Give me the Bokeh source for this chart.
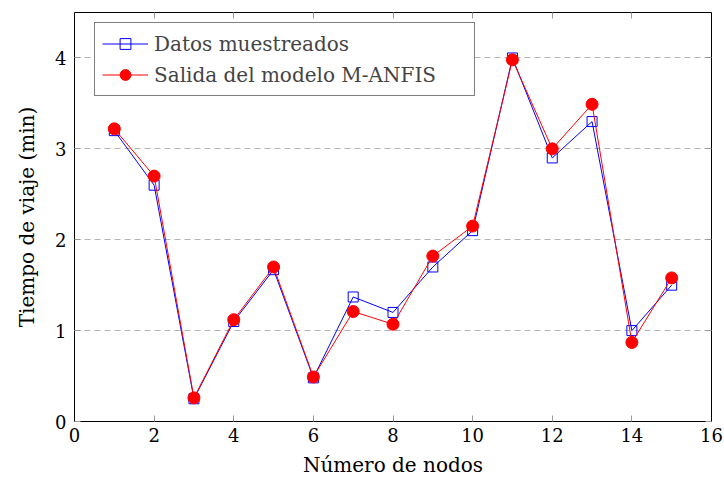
from bokeh.plotting import figure
from bokeh.models import Range1d, LinearAxis, FixedTicker, Legend, LegendItem, ColumnDataSource
from bokeh.embed import file_html
from bokeh.resources import INLINE

nodos = [1, 2, 3, 4, 5, 6, 7, 8, 9, 10, 11, 12, 13, 14, 15]
datos_muestreados = [3.20, 2.60, 0.25, 1.10, 1.67, 0.48, 1.37, 1.20, 1.70, 2.10, 4.00, 2.90, 3.30, 1.00, 1.50]
salida_manfis = [3.22, 2.70, 0.26, 1.12, 1.70, 0.49, 1.21, 1.07, 1.82, 2.15, 3.98, 3.00, 3.49, 0.87, 1.58]
x_ticks = [0, 2, 4, 6, 8, 10, 12, 14, 16]
y_ticks = [0, 1, 2, 3, 4]

FONT = "DejaVu Serif"

p = figure(width=724, height=480, output_backend="svg", toolbar_location=None,
           x_range=Range1d(0, 16), y_range=Range1d(0, 4.5),
           min_border_left=74, min_border_right=13, min_border_top=12, min_border_bottom=59)
p.background_fill_color = "white"
p.border_fill_color = "white"
p.outline_line_color = "black"
p.outline_line_width = 1

p.xgrid.visible = False
p.ygrid.ticker = FixedTicker(ticks=y_ticks)
p.ygrid.grid_line_color = "#b4b4b4"
p.ygrid.grid_line_dash = "6 4"
p.ygrid.grid_line_width = 1

def style_axis(ax, ticks, labels=True):
    ax.ticker = FixedTicker(ticks=ticks)
    ax.axis_line_color = "black"
    ax.major_tick_in = 6
    ax.major_tick_out = 0
    ax.major_tick_line_color = "#9a9a9a"
    ax.minor_tick_line_color = None
    ax.major_label_text_font = FONT
    ax.major_label_text_font_size = "18px"
    ax.major_label_text_color = "black"
    ax.axis_label_text_font = FONT
    ax.axis_label_text_font_size = "20px"
    ax.axis_label_text_font_style = "normal"
    ax.axis_label_text_color = "black"
    if not labels:
        ax.major_label_overrides = {t: "" for t in ticks}
        ax.major_label_standoff = 0

style_axis(p.xaxis[0], x_ticks)
style_axis(p.yaxis[0], y_ticks)
p.xaxis[0].axis_label = "Número de nodos"
p.yaxis[0].axis_label = "Tiempo de viaje (min)"
p.xaxis[0].major_label_standoff = 6
p.yaxis[0].major_label_standoff = 8
p.xaxis[0].axis_label_standoff = 8
p.yaxis[0].axis_label_standoff = 13

top_ax = LinearAxis()
style_axis(top_ax, x_ticks, labels=False)
p.add_layout(top_ax, "above")
right_ax = LinearAxis()
style_axis(right_ax, y_ticks, labels=False)
p.add_layout(right_ax, "right")

src = ColumnDataSource(dict(x=nodos, d=datos_muestreados, s=salida_manfis))

bl = p.line("x", "d", source=src, line_color="#0000ff", line_width=1)
bs = p.scatter("x", "d", source=src, marker="square", size=10, fill_color=None,
               line_color="#0000ff", line_width=1)
rl = p.line("x", "s", source=src, line_color="#ff0000", line_width=1)
rs = p.scatter("x", "s", source=src, marker="circle", size=12, fill_color="#ff0000",
               line_color="#ff0000", line_width=1)

legend = Legend(items=[LegendItem(label="Datos muestreados", renderers=[bl, bs]),
                       LegendItem(label="Salida del modelo M-ANFIS", renderers=[rl, rs])],
                location=(20, 325))
legend.border_line_color = "black"
legend.border_line_width = 1
legend.background_fill_color = "white"
legend.background_fill_alpha = 1
legend.label_text_font = FONT
legend.label_text_font_size = "20px"
legend.glyph_width = 46
legend.label_standoff = 6
legend.label_width = 313
legend.spacing = 4
legend.padding = 7
legend.margin = 0
legend.label_height = 27
legend.glyph_height = 27
p.add_layout(legend, "center")

open("out.html", "w").write(file_html(p, INLINE))
